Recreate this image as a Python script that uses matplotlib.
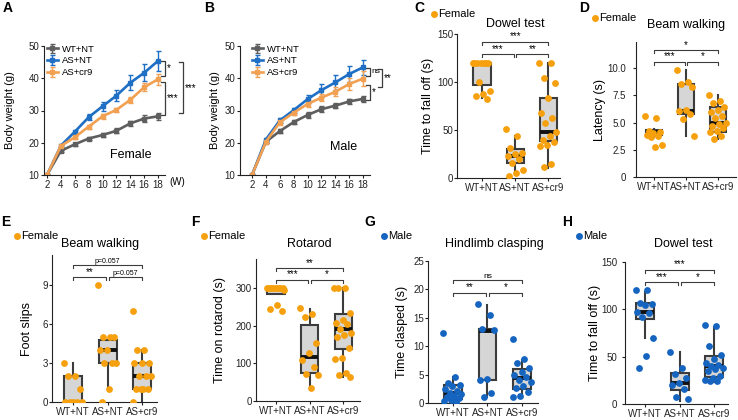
import numpy as np
import matplotlib
matplotlib.use('Agg')
import matplotlib.pyplot as plt
from matplotlib.lines import Line2D

plt.rcParams['font.family'] = ['Liberation Sans', 'DejaVu Sans']

W, H = 738, 420

groups = ['WT+NT', 'AS+NT', 'AS+cr9']
weeks = [2, 4, 6, 8, 10, 12, 14, 16, 18]

# A: female body weight (mean, sem)
fem_wt = [10, 17.5, 19.5, 21.3, 22.4, 23.7, 26.0, 27.5, 28.2]
fem_wt_err = [0, 0.4, 0.5, 0.6, 0.7, 0.8, 0.7, 1.0, 1.1]
fem_as = [10, 19.1, 23.4, 27.9, 31.3, 34.6, 38.6, 41.7, 45.4]
fem_as_err = [0, 0.4, 0.6, 0.9, 1.3, 1.8, 2.3, 2.7, 3.0]
fem_cr9 = [10, 19.0, 21.7, 25.0, 28.2, 30.2, 33.3, 37.2, 39.7]
fem_cr9_err = [0, 0.4, 0.5, 0.6, 0.8, 0.7, 1.0, 1.3, 1.7]

# B: male body weight
male_wt = [10, 20.3, 23.6, 26.4, 28.6, 30.4, 31.5, 32.8, 33.6]
male_wt_err = [0, 0.4, 0.6, 0.7, 0.9, 0.9, 0.8, 0.9, 0.9]
male_as = [10, 21.0, 26.9, 30.1, 33.5, 36.3, 38.7, 41.3, 43.4]
male_as_err = [0, 0.5, 0.7, 0.8, 1.3, 2.0, 2.2, 2.4, 2.4]
male_cr9 = [10, 20.3, 26.3, 29.3, 32.0, 34.0, 35.8, 38.2, 39.9]
male_cr9_err = [0, 0.5, 0.7, 0.8, 1.0, 1.2, 1.4, 1.8, 2.2]

# box stats per group: (whislo, q1, median, q3, whishi)
c_box = [(83, 97, 120, 120, 120), (3, 16, 23, 30, 44), (10, 39, 48, 83, 120)]
c_pts = [[120, 120, 120, 120, 120, 120, 120, 100, 91, 88, 85, 82],
         [51, 44, 31, 26, 25, 23, 20, 16, 8, 5, 2],
         [120, 120, 104, 99, 83, 68, 63, 57, 48, 44, 40, 37, 34, 33, 15, 11]]

d_box = [(3.7, 3.9, 4.1, 4.3, 4.4), (3.8, 5.8, 6.1, 8.5, 9.8), (3.5, 4.1, 5.0, 6.4, 7.5)]
d_pts = [[5.6, 5.4, 4.2, 4.1, 4.0, 3.9, 3.8, 3.7, 2.9, 2.8],
         [9.8, 8.7, 8.5, 8.3, 6.2, 6.1, 5.8, 5.3, 3.8],
         [7.5, 7.0, 6.8, 6.4, 6.2, 6.0, 5.6, 5.4, 5.0, 4.9, 4.7, 4.5, 4.2, 4.1, 3.8, 3.5]]

e_box = [(0, 0, 0, 2, 3), (1, 3, 4, 4.8, 4.8), (0, 1, 2, 3, 4)]
e_pts = [[3, 2, 2, 1, 0, 0, 0, 0, 0],
         [9, 5, 5, 5, 4, 4, 3, 3, 3, 1, 0],
         [7, 4, 4, 3, 3, 3, 2, 2, 2, 1, 1, 1, 1, 0]]

f_box = [(283, 283, 300, 300, 300), (35, 75, 117, 203, 245), (65, 137, 190, 232, 300)]
f_pts = [[300, 300, 300, 300, 300, 300, 300, 300, 295, 255, 245, 240],
         [248, 230, 222, 153, 128, 110, 90, 72, 70, 35],
         [300, 300, 300, 233, 215, 208, 205, 190, 180, 175, 170, 140, 115, 112, 75, 70, 65]]

g_box = [(0, 0.7, 1.8, 3.1, 4.5), (1.0, 4.0, 12.7, 13.0, 17.3), (0.8, 2.5, 4.4, 6.0, 7.6)]
g_pts = [[12.3, 4.5, 3.5, 3.2, 3.0, 2.5, 2.2, 1.8, 1.5, 1.2, 1.0, 0.8, 0.5, 0.3, 0.1],
         [17.4, 15.5, 13.0, 12.8, 4.2, 4.0, 1.8, 1.0],
         [11.3, 7.7, 7.0, 6.1, 5.5, 5.0, 4.5, 4.0, 3.7, 3.0, 2.7, 2.0, 1.2, 1.0]]

h_box = [(70, 90, 97, 107, 118), (3, 15, 22, 33, 55), (23, 29, 40, 51, 81)]
h_pts = [[120, 120, 107, 106, 105, 97, 96, 92, 70, 51, 38],
         [55, 38, 32, 27, 22, 20, 16, 7, 5],
         [83, 82, 61, 52, 48, 43, 41, 40, 38, 37, 35, 30, 27, 25, 24, 24]]

grey = '#5e5e5e'
blue = '#1f6fc4'
orange = '#f2a052'
fem_dot = '#f5a00c'
male_dot = '#1565c0'
dark = '#3c3c3c'


def fx(x):
    return x / W


def fy(y):
    return 1 - y / H


def make_ax(l, r, t, b, ypad=0.5, lab_x=None):
    ax = fig.add_axes([fx(l), fy(b), fx(r - l), (b - t) / H])
    for s in ['top', 'right']:
        ax.spines[s].set_visible(False)
    for s in ['left', 'bottom']:
        ax.spines[s].set_linewidth(0.8)
        ax.spines[s].set_color('#222222')
    ax.tick_params(labelsize=7, length=2.5, width=0.8, colors='#222222')
    ax.tick_params(axis='x', pad=1)
    ax.tick_params(axis='y', pad=ypad)
    ax._lab = (lab_x, l, r)
    return ax


def place_ylabel(ax, text, fs):
    lab_x, l, r = ax._lab
    ax.set_ylabel(text, fontsize=fs)
    ax.yaxis.set_label_coords((lab_x + fs * 0.65 - l) / (r - l), 0.5)


fig = plt.figure(figsize=(W / 100, H / 100), dpi=100)

# panel letters
for lab, x, y in [('A', 8, 8), ('B', 209, 8), ('C', 419, 8), ('D', 584, 8),
                  ('E', 6, 222), ('F', 195, 222), ('G', 370, 222), ('H', 567, 222)]:
    fig.text(fx(x), fy(y), lab, fontsize=10, fontweight='bold', ha='center', va='center')


def line_panel(ax, series, errs, xlim):
    for vals, err, col, lab in zip(series, errs, [grey, blue, orange], groups):
        ax.errorbar(weeks, vals, yerr=err, color=col, lw=1.9, marker='s', ms=3,
                    elinewidth=1, capsize=1.8, capthick=1, label=lab)
    ax.set_xlim(*xlim)
    ax.set_ylim(10, 50)
    ax.set_xticks(weeks)
    ax.set_yticks([10, 20, 30, 40, 50])
    place_ylabel(ax, 'Body weight (g)', 8)


def vbracket(ax, x, y1, y2, dx, text, tx, fs=7):
    ax.plot([x - dx, x, x, x - dx], [y1, y1, y2, y2], color=dark, lw=0.9, clip_on=False)
    ax.text(tx, (y1 + y2) / 2, text, fontsize=fs, ha='left', va='center', clip_on=False)


axA = make_ax(44, 165, 46, 175, ypad=1.0, lab_x=10)
line_panel(axA, [fem_wt, fem_as, fem_cr9], [fem_wt_err, fem_as_err, fem_cr9_err], (1.57, 19.0))
axA.legend(loc='upper left', bbox_to_anchor=(-0.01, 1.04), frameon=False, fontsize=6.8,
           handlelength=1.2, handletextpad=0.4, labelspacing=0.3, borderaxespad=0)
axA.text(14, 16.2, 'Female', fontsize=9, ha='center', va='center')
fig.text(fx(177), fy(182), '(W)', fontsize=7, ha='center', va='center')
vbracket(axA, 19.0, 45.3, 40.7, 0.55, '*', 19.3)
vbracket(axA, 19.0, 38.8, 28.6, 0.55, '***', 19.3)
vbracket(axA, 21.6, 45.0, 29.2, 0.55, '***', 21.9)

axB = make_ax(240, 370, 46, 175, ypad=1.0, lab_x=215)
line_panel(axB, [male_wt, male_as, male_cr9], [male_wt_err, male_as_err, male_cr9_err], (0.27, 19.0))
axB.legend(loc='upper left', bbox_to_anchor=(0.06, 1.04), frameon=False, fontsize=6.8,
           handlelength=1.2, handletextpad=0.4, labelspacing=0.3, borderaxespad=0)
axB.text(15.2, 18.8, 'Male', fontsize=9, ha='center', va='center')
vbracket(axB, 19.0, 43.2, 40.7, 0.55, 'ns', 19.2, fs=6)
vbracket(axB, 19.0, 37.9, 33.3, 0.55, '*', 19.3)
vbracket(axB, 20.7, 42.9, 37.3, 0.55, '**', 21.0)


def box_panel(ax, box, pts, dot, ylim, xlim, ylabel, ticks):
    stats = [dict(whislo=b[0], q1=b[1], med=b[2], q3=b[3], whishi=b[4], fliers=[]) for b in box]
    ax.bxp(stats, positions=[1, 2, 3], widths=0.52, showcaps=False, patch_artist=True,
           boxprops=dict(facecolor='#d6d6d6', edgecolor=dark, lw=1.5),
           whiskerprops=dict(color=dark, lw=1.5),
           medianprops=dict(color='#111111', lw=2.8, solid_capstyle='butt'))
    for i, p in enumerate(pts):
        p = np.array(p, dtype=float)
        off = ((np.arange(len(p)) * 0.618034) % 1 - 0.5) * 0.55
        ax.scatter(i + 1 + off, p, s=24, color=dot, zorder=5, linewidths=0)
    ax.set_xlim(*xlim)
    ax.set_ylim(*ylim)
    ax.set_xticks([1, 2, 3])
    ax.set_xticklabels(groups)
    ax.set_yticks(ticks)
    place_ylabel(ax, ylabel, 9)


def hbracket(ax, x1, x2, y, text, h, fs=7):
    ax.plot([x1, x1, x2, x2], [y - h, y, y, y - h], color=dark, lw=0.8, clip_on=False)
    ax.text((x1 + x2) / 2, y + h * 0.1, text, fontsize=fs, ha='center', va='bottom', clip_on=False)


def sig3(ax, ytop, ylow, texts, hpx, fs=(7, 7, 7)):
    y0, y1 = ax.get_ylim()
    h = hpx * (y1 - y0) / (ax.bbox.height)
    hbracket(ax, 1, 3, ytop, texts[0], h, fs[0])
    hbracket(ax, 1, 1.96, ylow, texts[1], h, fs[1])
    hbracket(ax, 2.04, 3, ylow, texts[2], h, fs[2])


def legend_dot(x, y, col, text):
    fig.add_artist(Line2D([fx(x)], [fy(y)], marker='o', ms=5, color=col, mew=0,
                          transform=fig.transFigure))
    fig.text(fx(x + 4), fy(y), text, fontsize=8, ha='left', va='center')


def title(x, y, text):
    fig.text(fx(x), fy(y), text, fontsize=9, ha='center', va='center')


axC = make_ax(457, 560, 34, 178, ypad=0.2, lab_x=428)
box_panel(axC, c_box, c_pts, fem_dot, (0, 150), (0.25, 3.35), 'Time to fall off (s)', [0, 50, 100, 150])
sig3(axC, 142, 129, ['***', '***', '**'], 3)
title(515, 24, 'Dowel test')
legend_dot(434, 14, fem_dot, 'Female')

axD = make_ax(636, 736, 42, 177, ypad=5.0, lab_x=600)
box_panel(axD, d_box, d_pts, fem_dot, (0, 12.4), (0.44, 3.56), 'Latency (s)', [0, 2.5, 5.0, 7.5, 10.0])
axD.set_yticklabels(['0', '2.5', '5.0', '7.5', '10.0'])
sig3(axD, 11.66, 10.58, ['*', '***', '*'], 3)
title(686, 25, 'Beam walking')
legend_dot(595, 18, fem_dot, 'Female')

axE = make_ax(52, 157, 255, 402, ypad=0.5, lab_x=27)
box_panel(axE, e_box, e_pts, fem_dot, (0, 11.3), (0.39, 3.43), 'Foot slips', [0, 3, 6, 9])
sig3(axE, 10.5, 9.6, ['p=0.057', '**', 'p=0.057'], 3, fs=(5, 7, 5))
title(100, 244, 'Beam walking')
legend_dot(17, 236, fem_dot, 'Female')

axF = make_ax(256, 360, 259, 401, ypad=0.5, lab_x=220)
box_panel(axF, f_box, f_pts, fem_dot, (0, 377), (0.4, 3.5), 'Time on rotarod (s)', [0, 100, 200, 300])
sig3(axF, 353, 322, ['**', '***', '*'], 3)
title(309, 244, 'Rotarod')
legend_dot(204, 236, fem_dot, 'Female')

axG = make_ax(428, 538, 261, 403, ypad=0.5, lab_x=402)
box_panel(axG, g_box, g_pts, male_dot, (0, 25), (0.28, 3.46), 'Time clasped (s)', [0, 5, 10, 15, 20, 25])
sig3(axG, 21.6, 19.4, ['ns', '**', '*'], 3, fs=(6, 7, 7))
title(494, 244, 'Hindlimb clasping')
legend_dot(384, 236, male_dot, 'Male')

axH = make_ax(625, 728, 262, 404, ypad=3.0, lab_x=595)
box_panel(axH, h_box, h_pts, male_dot, (0, 150), (0.42, 3.4), 'Time to fall off (s)', [0, 50, 100, 150])
sig3(axH, 142, 129, ['***', '***', '*'], 3)
title(683, 244, 'Dowel test')
legend_dot(579, 236, male_dot, 'Male')

fig.savefig('out.png', dpi=100)
